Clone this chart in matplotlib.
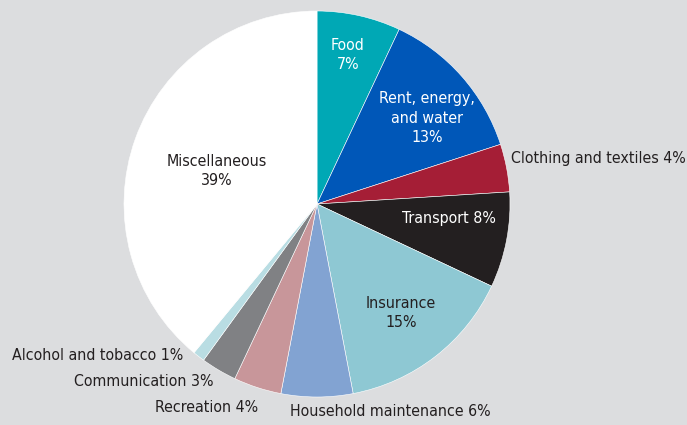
import matplotlib.pyplot as plt

categories = ["Food", "Rent, energy,\nand water", "Clothing and textiles", "Transport",
              "Insurance", "Household maintenance", "Recreation", "Communication",
              "Alcohol and tobacco", "Miscellaneous"]
shares = [7, 13, 4, 8, 15, 6, 4, 3, 1, 39]
colors = ["#00a8b5", "#0057b8", "#a51e36", "#231f20", "#8ec8d3",
          "#82a3d2", "#c8969a", "#808184", "#b9dde3", "#ffffff"]

plt.rcParams['font.family'] = ['DejaVu Sans']
plt.rcParams['font.stretch'] = 'condensed'

bg = "#dcdddf"
dark = "#231f20"
fig = plt.figure(figsize=(6.87, 4.25), dpi=100, facecolor=bg)
ax = fig.add_axes([0, 0, 1, 1])
ax.set_facecolor(bg)

# y axis runs downward, so counterclock=True ends up clockwise on screen
ax.pie(shares, colors=colors, startangle=-90, counterclock=True,
       center=(317, 204), radius=193, frame=True,
       wedgeprops=dict(linewidth=0.4, edgecolor="white"))
ax.set_xlim(0, 687)
ax.set_ylim(425, 0)
ax.set_aspect('equal')
ax.axis('off')

fs = 11.4
def lab(x, y, s, c, ha="center"):
    ax.text(x, y, s, color=c, fontsize=fs, ha=ha, va="center", linespacing=1.35)

lab(348, 55, f"{categories[0]}\n{shares[0]}%", "white")
lab(427, 118, f"{categories[1]}\n{shares[1]}%", "white")
lab(511, 158, f"{categories[2]} {shares[2]}%", dark, ha="left")
lab(449, 218, f"{categories[3]} {shares[3]}%", "white")
lab(401, 313, f"{categories[4]}\n{shares[4]}%", dark)
lab(390, 412, f"{categories[5]} {shares[5]}%", dark)
lab(258, 408, f"{categories[6]} {shares[6]}%", dark, ha="right")
lab(213, 381, f"{categories[7]} {shares[7]}%", dark, ha="right")
lab(183, 356, f"{categories[8]} {shares[8]}%", dark, ha="right")
lab(217, 171, f"{categories[9]}\n{shares[9]}%", dark)

fig.savefig("out.png", dpi=100, facecolor=bg)
